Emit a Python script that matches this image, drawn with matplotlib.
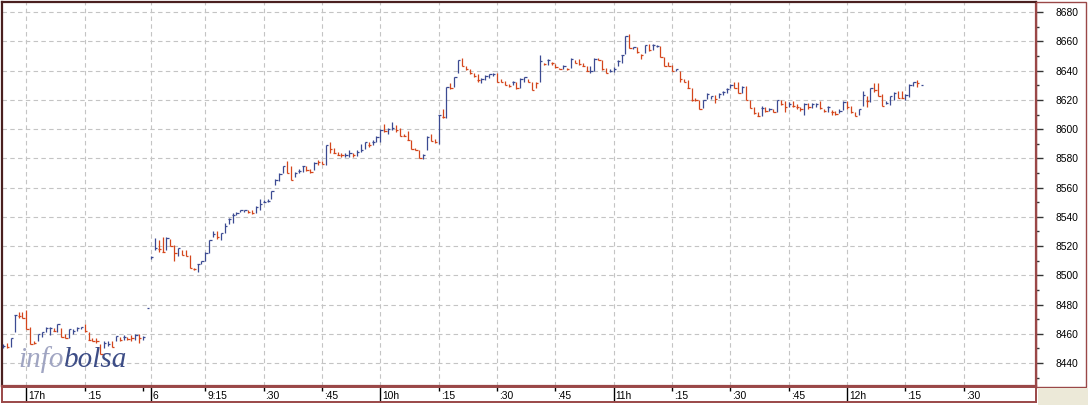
import matplotlib.pyplot as plt
from matplotlib.patches import Rectangle
from matplotlib.ticker import MultipleLocator

plt.rcParams['font.family'] = ['Liberation Sans', 'DejaVu Sans']

# 1-minute HLC bars, 16:54 -> 17:35 (prev. day) then day 6 from 9:00 -> 12:19
highs = [
    8453, 8454, 8457, 8473, 8475, 8475, 8476.5, 8465, 8455, 8460,
    8461.5, 8465, 8465, 8464, 8467, 8464, 8460, 8463, 8463, 8464.5,
    8465, 8466.5, 8461, 8457, 8457, 8453, 8455, 8455, 8455, 8458.5,
    8458, 8459, 8458, 8459, 8460, 8460, 8458.5, 8477.5,
    # day 6
    8513, 8525.5, 8524, 8526, 8526, 8525, 8521, 8519, 8517.5, 8517,
    8514, 8505, 8508, 8510, 8516, 8524, 8530, 8530, 8529, 8536,
    8539, 8542.5, 8543, 8545, 8545, 8545, 8544.5, 8547.5, 8552, 8551.5,
    8552.5, 8558,
    8566, 8570, 8575, 8578, 8575, 8571, 8572.5, 8575, 8575, 8573,
    8577.5, 8579, 8578, 8589, 8591.5, 8587, 8584.5, 8584, 8584, 8585.5,
    8584, 8586, 8590, 8591, 8591, 8592.5, 8595.5, 8600, 8603.5, 8601,
    8605, 8603, 8601, 8597,
    8598.5, 8592.5, 8587, 8586, 8583, 8595.5, 8597, 8593.5, 8610, 8614,
    8629, 8631.5, 8636, 8647.5, 8648.5, 8643.5, 8641.5, 8638.5, 8638, 8635,
    8637, 8638, 8638.5, 8638.5, 8634, 8633, 8631, 8633, 8632, 8635,
    8636, 8634.5, 8632, 8632, 8651, 8645.5, 8648, 8646, 8644.5, 8642,
    8644, 8642, 8648.5, 8647, 8648, 8645, 8643.5, 8643.5, 8648.5, 8648.5,
    8647.5, 8642, 8641, 8642.5, 8647, 8651, 8664, 8665, 8656.5, 8656,
    8651.5, 8657.5, 8658.5, 8658, 8657.5, 8657, 8649.5, 8646, 8644, 8641.5,
    8640, 8634.5, 8633.5, 8628.5, 8621, 8620, 8620, 8624.5, 8623, 8623.5,
    8624.5, 8626, 8628.5, 8631, 8632.5, 8632.5, 8629.5, 8629.5, 8620, 8615.5,
    8612, 8616, 8615, 8614.5, 8614, 8620, 8620, 8619.5, 8618.5, 8619,
    8617, 8615.5,
    8618, 8618, 8618, 8618, 8619, 8614, 8616, 8613, 8612.5, 8613.5,
    8619, 8619, 8616, 8611.5, 8614, 8626, 8623, 8628.5, 8631.5, 8631.5,
    8624, 8619, 8623, 8625.5, 8626, 8626, 8624, 8631, 8632.5, 8633.5,
    8630.5,
]
lows = [
    8450, 8450, 8451, 8461, 8471, 8471, 8463.5, 8453, 8453, 8455,
    8457.5, 8461, 8459, 8462, 8461, 8458, 8457, 8457, 8460, 8462,
    8463, 8461.5, 8456, 8455, 8454, 8446, 8450, 8452, 8451, 8455,
    8455, 8456, 8456, 8455, 8456, 8454, 8456, 8477.5,
    8511, 8517.5, 8516, 8516, 8517, 8520, 8510, 8513, 8514, 8513,
    8505, 8503.5, 8502, 8507.5, 8510, 8515, 8526, 8525, 8524, 8529,
    8535, 8536, 8541, 8543, 8543, 8542.5, 8542, 8542.5, 8545, 8550,
    8550.5, 8552,
    8561.5, 8564.5, 8570, 8570, 8565.5, 8567, 8570, 8570.5, 8571.5, 8570,
    8572, 8575.5, 8576, 8575.5, 8584, 8583.5, 8582, 8581, 8581, 8581,
    8581, 8581.5, 8584.5, 8586.5, 8588, 8589, 8591.5, 8591, 8598, 8597,
    8599.5, 8598, 8595.5, 8595,
    8592.5, 8586.5, 8586, 8580, 8579.5, 8585.5, 8592, 8590.5, 8590, 8607.5,
    8607.5, 8627.5, 8629, 8638.5, 8643, 8640.5, 8638, 8636, 8632.5, 8631.5,
    8633.5, 8635, 8636.5, 8632.5, 8632, 8630, 8629, 8630, 8627.5, 8628,
    8632.5, 8632, 8627, 8628.5, 8632, 8644, 8644, 8644, 8642, 8641,
    8641.5, 8640.5, 8642, 8645, 8644, 8643, 8639.5, 8638.5, 8640, 8647,
    8640.5, 8638.5, 8639, 8639, 8643.5, 8645.5, 8651.5, 8655.5, 8655, 8652,
    8648, 8652, 8653.5, 8654.5, 8656, 8649.5, 8643.5, 8643, 8639.5, 8639.5,
    8632.5, 8632.5, 8628.5, 8619.5, 8619.5, 8614, 8614.5, 8620.5, 8620.5, 8618,
    8621.5, 8623.5, 8625, 8628, 8628.5, 8624.5, 8624.5, 8620, 8614.5, 8610.5,
    8609, 8609, 8612, 8612.5, 8611.5, 8612, 8616.5, 8612, 8615, 8615.5,
    8614, 8612.5,
    8610, 8614, 8614.5, 8615.5, 8614, 8612, 8612, 8610, 8610, 8611,
    8613, 8614, 8611, 8609, 8609.5, 8616, 8615.5, 8618.5, 8625.5, 8622.5,
    8616, 8617, 8616.5, 8620, 8621.5, 8621, 8620, 8622, 8629.5, 8629,
    8630,
]
closes = [
    8452, 8451, 8457, 8473, 8472, 8471, 8463.5, 8453, 8453.5, 8460,
    8461, 8464, 8464, 8462, 8467, 8458, 8457, 8463, 8462, 8464,
    8465, 8462, 8456, 8455, 8455, 8446, 8454, 8453, 8451, 8458.5,
    8456, 8458, 8456.5, 8457, 8459, 8457, 8458, 8477.5,
    8512.5, 8518.5, 8518, 8516, 8525.5, 8520, 8515, 8519, 8514, 8513.5,
    8505, 8504, 8507.5, 8509.5, 8515, 8524, 8528, 8526, 8529, 8533.5,
    8538.5, 8541, 8542.5, 8545, 8544.5, 8543, 8542.5, 8547, 8549, 8550.5,
    8551, 8558,
    8565.5, 8569.5, 8574.5, 8570, 8565.5, 8570, 8571.5, 8574.5, 8572, 8571,
    8577, 8577.5, 8576, 8589, 8586.5, 8583.5, 8582.5, 8582, 8582.5, 8584,
    8582, 8584.5, 8585.5, 8591, 8589.5, 8591.5, 8594.5, 8599.5, 8598.5, 8600,
    8601, 8599.5, 8595.5, 8595.5,
    8592.5, 8586.5, 8586, 8580, 8582, 8594.5, 8592, 8591, 8609.5, 8608.5,
    8629, 8628, 8635.5, 8647, 8643, 8641, 8638.5, 8636.5, 8633.5, 8634.5,
    8636.5, 8637.5, 8638, 8632.5, 8632.5, 8630, 8629.5, 8632.5, 8628, 8634.5,
    8635.5, 8632.5, 8627, 8631.5, 8646.5, 8644.5, 8647, 8645, 8642.5, 8641.5,
    8643, 8641, 8648, 8645.5, 8644.5, 8643.5, 8639.5, 8640, 8648, 8647.5,
    8641.5, 8638.5, 8640, 8641.5, 8646.5, 8650.5, 8663.5, 8655.5, 8656, 8653,
    8650.5, 8657.5, 8654.5, 8657.5, 8657, 8649.5, 8643.5, 8643, 8640, 8641,
    8634.5, 8632.5, 8628.5, 8620, 8620, 8614, 8620, 8624, 8622.5, 8620.5,
    8624, 8625.5, 8627.5, 8630.5, 8628.5, 8624.5, 8629, 8620, 8614.5, 8611,
    8609, 8614.5, 8612.5, 8613.5, 8612, 8620, 8617, 8615.5, 8617, 8616,
    8615.5, 8613.5,
    8617, 8615, 8617.5, 8617.5, 8614.5, 8612.5, 8615.5, 8611.5, 8610.5, 8612.5,
    8618.5, 8615, 8612, 8609, 8614, 8623.5, 8619, 8628, 8627, 8622.5,
    8616, 8618, 8622.5, 8625, 8621.5, 8621, 8623.5, 8630, 8632, 8631.5,
    8630.5,
]
# B = up bar (blue), R = down bar (red)
direction = ("BRBBRRRRRB" "BBBRBRRBBB" "BRRRRRBBRB" "RBRRBRBB"
             "BBRRBRRBRR" "RRBBBBBRBB" "BBBBBRRBBB" "BB"
             "BBBRRBBBRR" "BRRBRRRRBB" "RBBBRBBBRB" "BRRR"
             "RRRRBBRRBR" "BRBBRRRRRB" "BBBRRRRBRB" "BRRRBRBRRR" "BRBRRRRBBR"
             "RRBBBBBRBR" "RBRBBRRRRB" "RRRRRRBBBR" "BBBBRRBRRR" "RBRBRBRRBR" "RR"
             "BRBBRRBRRB"
             "BRRRBBRBRR" "RBBBRRBBBR" "B")

# time axis (bar index of each quarter hour)
tick_pos = [6, 21, 36, 38, 52, 67, 82, 97, 112, 127, 142, 157, 172, 187, 202, 217, 232, 247]
tick_lab = ['17h', ':15', '', '6', '9:15', ':30', ':45', '10h', ':15', ':30', ':45',
            '11h', ':15', ':30', ':45', '12h', ':15', ':30']
major_lab = ['17h', '6', '10h', '11h', '12h']

blue = '#3b4a92'
red = '#d4461c'
frame = '#9a4848'

W, H = 1088, 405


def box(l, t, r, b):
    return [l / W, 1 - b / H, (r - l) / W, (b - t) / H]


fig = plt.figure(figsize=(W / 100, H / 100), dpi=100)
fig.patch.set_facecolor('white')

ax = fig.add_axes(box(2, 2, 1036, 386))
xs = list(range(len(closes)))
cols = [blue if d == 'B' else red for d in direction]
ax.vlines(xs, lows, highs, colors=cols, lw=0.9, zorder=3)
ax.hlines(closes, [x - 0.05 for x in xs], [x + 0.6 for x in xs], colors=cols, lw=0.9, zorder=3)

xlim = (-0.26, 265.55)
ax.set_xlim(*xlim)
ax.set_ylim(8424.3, 8687)
ax.set_xticks([p for p, l in zip(tick_pos, tick_lab) if l])
ax.tick_params(axis='x', length=0, labelbottom=False)
ax.yaxis.tick_right()
ax.set_yticks(range(8440, 8681, 20))
ax.yaxis.set_minor_locator(MultipleLocator(10))
ax.tick_params(axis='y', which='major', length=5, width=1, color='#333333',
               labelsize=7.4, pad=9)
ax.tick_params(axis='y', which='minor', length=2, width=1, color='#333333')
ax.grid(True, color='#c4c4c4', lw=0.8, linestyle=(0, (4, 3)), zorder=0)
for side in ['top', 'left']:
    ax.spines[side].set_color('#4a2020')
    ax.spines[side].set_linewidth(1.6)
for side in ['right', 'bottom']:
    ax.spines[side].set_color(frame)
    ax.spines[side].set_linewidth(1.6)

# logo
fig.text(18 / W, 1 - 367 / H, 'info', fontfamily='Liberation Serif', style='italic',
         size=21, color='#a0a5c2', va='baseline', zorder=1)
fig.text(64 / W, 1 - 367 / H, 'bolsa', fontfamily='Liberation Serif', style='italic',
         size=21, color='#3d4d86', va='baseline', zorder=1)

# time strip
st = fig.add_axes(box(2, 387, 1036, 402))
st.set_xlim(*xlim)
st.set_ylim(0, 1)
st.set_xticks([])
st.set_yticks([])
for s in st.spines.values():
    s.set_color(frame)
    s.set_linewidth(1.4)
for p, l in zip(tick_pos, tick_lab):
    if l in major_lab:
        st.vlines(p, 0, 1, colors='black', lw=1)
    else:
        st.vlines(p, 0.72, 1, colors='black', lw=1)
    if l:
        st.text(p + 0.5, 0.42, l, ha='left', va='center', fontsize=7.4, color='black')

# right label panel and corner
fig.add_artist(Rectangle((1036 / W, 1 - 386.5 / H), 49.5 / W, 385 / H, fill=False,
                         ec=frame, lw=1, transform=fig.transFigure))
fig.add_artist(Rectangle((1037.5 / W, 0), 51 / W, 17.5 / H, fc='#ece9d8', ec='none',
                         transform=fig.transFigure))

fig.savefig('out.png', dpi=100)
